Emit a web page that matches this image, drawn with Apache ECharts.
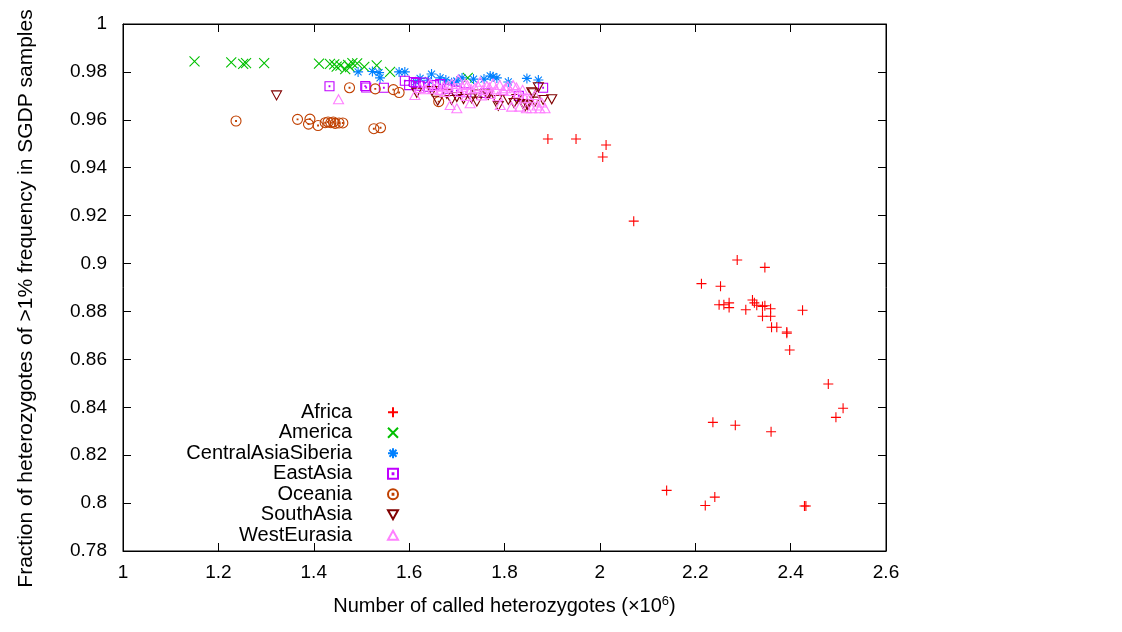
<!DOCTYPE html>
<html>
<head>
<meta charset="utf-8">
<script src="https://cdn.jsdelivr.net/npm/echarts@6/dist/echarts.min.js"></script>
<style>
  html, body { margin: 0; padding: 0; background: #fff; }
  #chart { width: 1122px; height: 632px; }
</style>
</head>
<body>
<div id="chart"></div>
<script>
// values: [heterozygotes (x10^6), fraction]
const africa = [
  [1.891, 0.952], [1.950, 0.952], [2.013, 0.9495], [2.006, 0.9445], [2.071, 0.9177],
  [2.288, 0.9015], [2.346, 0.8984], [2.213, 0.8916], [2.253, 0.8905], [2.250, 0.8828],
  [2.260, 0.8828], [2.271, 0.8836], [2.271, 0.8816], [2.306, 0.8807], [2.320, 0.8848],
  [2.324, 0.8836], [2.329, 0.8826], [2.341, 0.8821], [2.346, 0.8824], [2.358, 0.8811],
  [2.341, 0.878], [2.358, 0.878], [2.360, 0.8734], [2.371, 0.8734], [2.392, 0.8714],
  [2.392, 0.8709], [2.398, 0.8639], [2.425, 0.8805], [2.479, 0.8497], [2.510, 0.8396],
  [2.495, 0.8358], [2.237, 0.8337], [2.284, 0.8325], [2.359, 0.8298], [2.140, 0.8053],
  [2.241, 0.8025], [2.221, 0.7990], [2.429, 0.7988], [2.432, 0.7988]
]
const america = [
  [1.150, 0.9844], [1.227, 0.9840], [1.252, 0.9834], [1.258, 0.9837], [1.296, 0.9837],
  [1.411, 0.9835], [1.434, 0.9834], [1.443, 0.9831], [1.448, 0.9822], [1.466, 0.9812],
  [1.472, 0.9829], [1.481, 0.9837], [1.491, 0.9836], [1.506, 0.9821], [1.532, 0.9827],
  [1.560, 0.9800], [1.723, 0.9775], [1.456, 0.9826], [1.476, 0.9820]
]
const centralAsiaSiberia = [
  [1.493, 0.980], [1.523, 0.9802], [1.537, 0.9797], [1.539, 0.9775], [1.579, 0.980],
  [1.591, 0.980], [1.614, 0.9759], [1.623, 0.9773], [1.647, 0.9791], [1.665, 0.9775],
  [1.677, 0.9766], [1.689, 0.9755], [1.711, 0.9775], [1.735, 0.977], [1.757, 0.977],
  [1.770, 0.9783], [1.784, 0.9775], [1.808, 0.9758], [1.847, 0.9773], [1.871, 0.9766],
  [1.640, 0.9765], [1.700, 0.9762], [1.776, 0.9780]
]
const eastAsia = [
  [1.433, 0.9740], [1.508, 0.9741], [1.510, 0.9735], [1.547, 0.9734], [1.591, 0.9763],
  [1.610, 0.9758], [1.614, 0.9754], [1.630, 0.9756], [1.665, 0.9749], [1.720, 0.9715],
  [1.881, 0.9734], [1.600, 0.9745], [1.622, 0.9742], [1.640, 0.9738], [1.652, 0.9745],
  [1.680, 0.9730], [1.700, 0.9722], [1.760, 0.9712], [1.830, 0.9700]
]
const oceania = [
  [1.237, 0.9595], [1.366, 0.9602], [1.392, 0.9603], [1.389, 0.9582], [1.409, 0.9576],
  [1.424, 0.9588], [1.430, 0.9591], [1.436, 0.9588], [1.441, 0.9591], [1.445, 0.9585],
  [1.453, 0.9587], [1.461, 0.9587], [1.526, 0.9563], [1.540, 0.9567], [1.475, 0.9734],
  [1.529, 0.9729], [1.567, 0.9726], [1.579, 0.9714], [1.662, 0.9676]
]
const southAsia = [
  [1.322, 0.9702], [1.616, 0.9713], [1.648, 0.972], [1.679, 0.9708], [1.689, 0.9683],
  [1.714, 0.9687], [1.731, 0.969], [1.742, 0.9706], [1.742, 0.9676], [1.763, 0.9706],
  [1.766, 0.9704], [1.784, 0.9683], [1.787, 0.9658], [1.808, 0.9683], [1.826, 0.9687],
  [1.839, 0.9666], [1.843, 0.9655], [1.857, 0.9715], [1.860, 0.9711], [1.864, 0.9676],
  [1.871, 0.9736], [1.881, 0.9683], [1.899, 0.9686], [1.660, 0.968], [1.700, 0.9695],
  [1.820, 0.9670], [1.850, 0.9665], [1.848, 0.9662]
]
const westEurasia = [
  [1.452, 0.9686], [1.612, 0.9704], [1.623, 0.9733], [1.644, 0.9752], [1.658, 0.9741],
  [1.672, 0.9738], [1.686, 0.9662], [1.690, 0.975], [1.700, 0.9648], [1.703, 0.9769],
  [1.717, 0.975], [1.728, 0.9669], [1.738, 0.9733], [1.749, 0.9759], [1.763, 0.9741],
  [1.776, 0.9752], [1.791, 0.9662], [1.797, 0.9724], [1.807, 0.9741], [1.815, 0.9655],
  [1.818, 0.9745], [1.829, 0.9711], [1.832, 0.9655], [1.843, 0.969], [1.846, 0.9648],
  [1.857, 0.9648], [1.864, 0.9704], [1.874, 0.9648], [1.885, 0.9648], [1.675, 0.9716],
  [1.707, 0.9716], [1.770, 0.9708], [1.633, 0.9728], [1.650, 0.9730], [1.665, 0.9725],
  [1.682, 0.9742], [1.695, 0.9732], [1.712, 0.9738], [1.722, 0.9745], [1.730, 0.9728],
  [1.745, 0.9740], [1.755, 0.9725], [1.768, 0.9735], [1.782, 0.9728], [1.790, 0.9745],
  [1.802, 0.9732], [1.812, 0.9720], [1.825, 0.9735], [1.838, 0.9725], [1.852, 0.9690],
  [1.868, 0.9660], [1.878, 0.9672], [1.720, 0.9700], [1.752, 0.9702], [1.786, 0.9698]
]

const regionNames = ['Africa', 'America', 'CentralAsiaSiberia', 'EastAsia', 'Oceania', 'SouthAsia', 'WestEurasia']
const regionData = [africa, america, centralAsiaSiberia, eastAsia, oceania, southAsia, westEurasia]
const regionColors = ['#ff0000', '#00c000', '#0080ff', '#c000ff', '#c04000', '#800000', '#ff80ff']

// gnuplot-like point types
const dot = 'M4.6,4.6L5.4,4.6L5.4,5.4L4.6,5.4Z'
const symbols = [
  'path://M0,5L10,5M5,0L5,10',
  'path://M0,0L10,10M10,0L0,10',
  'path://M0,5L10,5M5,0L5,10M1.5,1.5L8.5,8.5M8.5,1.5L1.5,8.5',
  'path://M0,0L10,0L10,10L0,10Z' + dot,
  'path://M10,5A5,5,0,1,1,0,5A5,5,0,1,1,10,5Z' + dot,
  'path://M0,0L10,0L5,9Z',
  'path://M5,0L10,9L0,9Z',
]
const symbolSizes = [[10, 10], [10, 10], [10, 10], [9, 9], [10, 10], [10, 9], [10, 9]]

const fontFamily = '"Liberation Sans", Arial, sans-serif'

const chart = echarts.init(document.getElementById('chart'))

const axisCommon = {
  axisLine: { show: true, lineStyle: { color: '#000', width: 1 } },
  axisTick: { show: true, inside: true, length: 8, lineStyle: { color: '#000' } },
  splitLine: { show: false },
}

chart.setOption({
  animation: false,
  backgroundColor: '#fff',
  grid: {
    left: 123,
    right: 236,
    top: 24,
    bottom: 81,
    show: true,
    borderColor: '#000',
    borderWidth: 1,
  },
  legend: {
    orient: 'vertical',
    left: 152,
    top: 402,
    padding: 0,
    align: 'right',
    itemWidth: 10,
    itemHeight: 10,
    itemGap: 0,
    selectedMode: false,
    textStyle: {
      fontFamily,
      fontSize: 20,
      color: '#000',
      width: 200,
      lineHeight: 20.5,
      align: 'right',
      padding: [0, 31, 0, 0],
    },
    data: regionNames,
  },
  xAxis: [
    {
      ...axisCommon,
      type: 'value',
      min: 1,
      max: 2.6,
      interval: 0.2,
      position: 'bottom',
      name: '{a|Number of called heterozygotes (×10}{b|6}{a|)}',
      nameLocation: 'middle',
      nameGap: 44,
      nameTextStyle: {
        rich: {
          a: { fontFamily, fontSize: 20, color: '#000' },
          b: { fontFamily, fontSize: 13, color: '#000', verticalAlign: 'top', padding: [0, 0, 9, 0] },
        },
      },
      axisLabel: { fontFamily, fontSize: 19, color: '#000', margin: 12 },
    },
    {
      ...axisCommon,
      type: 'value',
      min: 1,
      max: 2.6,
      interval: 0.2,
      position: 'top',
      axisLabel: { show: false },
    },
  ],
  yAxis: [
    {
      ...axisCommon,
      type: 'value',
      min: 0.78,
      max: 1,
      interval: 0.02,
      position: 'left',
      name: 'Fraction of heterozygotes of >1% frequency in SGDP samples',
      nameLocation: 'middle',
      nameGap: 86,
      nameTextStyle: { fontFamily, fontSize: 21, color: '#000', padding: [0, 22, 0, 0] },
      axisLabel: { fontFamily, fontSize: 19, color: '#000', margin: 16 },
    },
    {
      ...axisCommon,
      type: 'value',
      min: 0.78,
      max: 1,
      interval: 0.02,
      position: 'right',
      axisLabel: { show: false },
    },
  ],
  series: regionNames.map((name, i) => ({
    name,
    type: 'scatter',
    data: regionData[i],
    symbol: symbols[i],
    symbolSize: symbolSizes[i],
    itemStyle: {
      color: 'rgba(0,0,0,0)',
      borderColor: regionColors[i],
      borderWidth: 1.1,
      opacity: 1,
    },
    emphasis: { disabled: true },
  })),
})
</script>
</body>
</html>
